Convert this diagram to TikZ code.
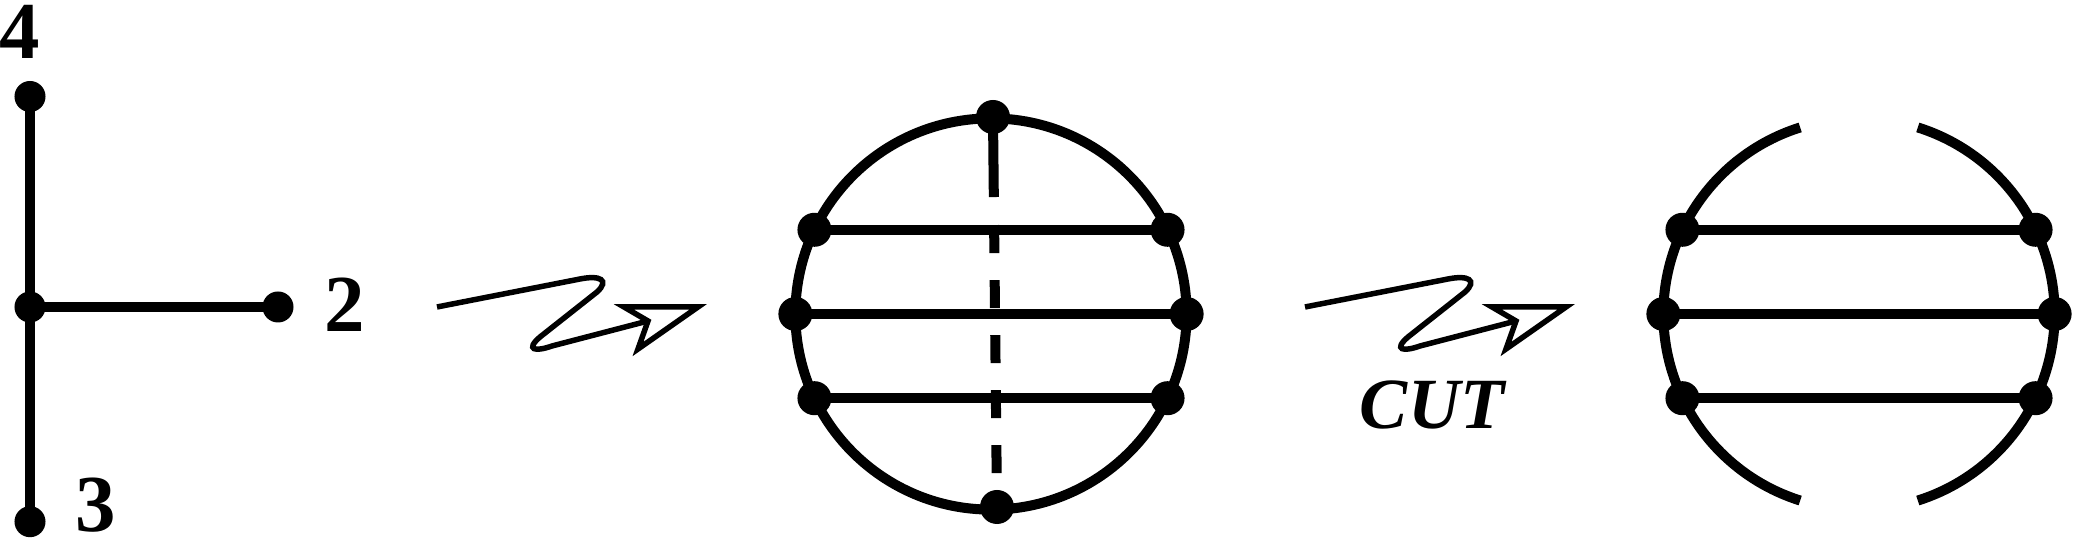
\documentclass[tikz,border=0pt]{standalone}
\usepackage{fontspec}
\setmainfont{Liberation Serif}
\tikzset{
  ln/.style={line width=0.1cm},
  sdot/.style={circle,fill=black,inner sep=0pt,minimum size=0.31cm},
  bdot/.style={circle,fill=black,inner sep=0pt,minimum size=0.34cm},
  lab/.style={inner sep=0pt,font=\fontsize{23}{24}\selectfont\bfseries},
  cutlab/.style={inner sep=0pt,font=\fontsize{20.5}{22}\selectfont\bfseries\itshape},
  squig/.style={line width=0.055cm},
  squighead/.style={line width=0.055cm,fill=white,line join=miter},
  dashline/.style={line width=0.1cm,dash pattern=on 0.80cm off 0.28cm on 0.28cm off 0.27cm on 0.28cm off 0.27cm on 0.28cm off 0.27cm on 0.28cm off 0.27cm on 0.28cm off 0.34cm},
  zzarrow/.pic={
    \draw[squig] (0,0) -- (143,28) .. controls (163,32) and (173,27) .. (160,15)
      -- (103,-30) .. controls (88,-43) and (98,-45) .. (115,-39) -- (211,-14);
    \draw[squighead] (187,0) -- (261,0) -- (201,-42) -- (211,-14) -- cycle;
  }
}
\begin{document}
\begin{tikzpicture}[x=0.01cm,y=0.01cm]
\useasboundingbox (0,0) rectangle (2075,540);

% left tree
\node[sdot] (v4) at (30,443.5) {};
\node[sdot] (vj) at (30,233) {};
\node[sdot] (v2) at (278,233) {};
\node[sdot] (v3) at (30,18.3) {};
\draw[ln] (v4.center) -- (vj.center) -- (v3.center);
\draw[ln] (vj.center) -- (v2.center);
\node[lab] (l4) at (20,508) {4};
\node[lab] (l2) at (345,235) {2};
\node[lab] (l3) at (96,35) {3};

% first squiggly arrow
\pic (za) at (437,233) {zzarrow};

% middle diagram
\coordinate (c1) at (991,226);
\draw[ln] (c1) circle[radius=1.955cm];
\node[bdot] (mul) at ([shift={(154.5:1.955cm)}]c1) {};
\node[bdot] (mur) at ([shift={(25.5:1.955cm)}]c1) {};
\node[bdot] (ml) at ([shift={(180:1.955cm)}]c1) {};
\node[bdot] (mr) at ([shift={(0:1.955cm)}]c1) {};
\node[bdot] (mll) at ([shift={(205.5:1.955cm)}]c1) {};
\node[bdot] (mlr) at ([shift={(334.5:1.955cm)}]c1) {};
\node[bdot] (mt) at (993,423) {};
\node[bdot] (mb) at (997,33) {};
\draw[ln] (mul.center) -- (mur.center);
\draw[ln] (ml.center) -- (mr.center);
\draw[ln] (mll.center) -- (mlr.center);
\draw[dashline] (mt.center) -- (mb.center);

% second squiggly arrow
\pic (zb) at (1305,233) {zzarrow};
\node[cutlab] (cut) at (1432,135) {CUT};

% right diagram
\coordinate (c2) at (1859,226);
\draw[ln] ([shift={(107.5:1.955cm)}]c2) arc[start angle=107.5,end angle=252.5,radius=1.955cm];
\draw[ln] ([shift={(72.5:1.955cm)}]c2) arc[start angle=72.5,end angle=-72.5,radius=1.955cm];
\node[bdot] (rul) at ([shift={(154.5:1.955cm)}]c2) {};
\node[bdot] (rur) at ([shift={(25.5:1.955cm)}]c2) {};
\node[bdot] (rl) at ([shift={(180:1.955cm)}]c2) {};
\node[bdot] (rr) at ([shift={(0:1.955cm)}]c2) {};
\node[bdot] (rll) at ([shift={(205.5:1.955cm)}]c2) {};
\node[bdot] (rlr) at ([shift={(334.5:1.955cm)}]c2) {};
\draw[ln] (rul.center) -- (rur.center);
\draw[ln] (rl.center) -- (rr.center);
\draw[ln] (rll.center) -- (rlr.center);
\end{tikzpicture}
\end{document}
